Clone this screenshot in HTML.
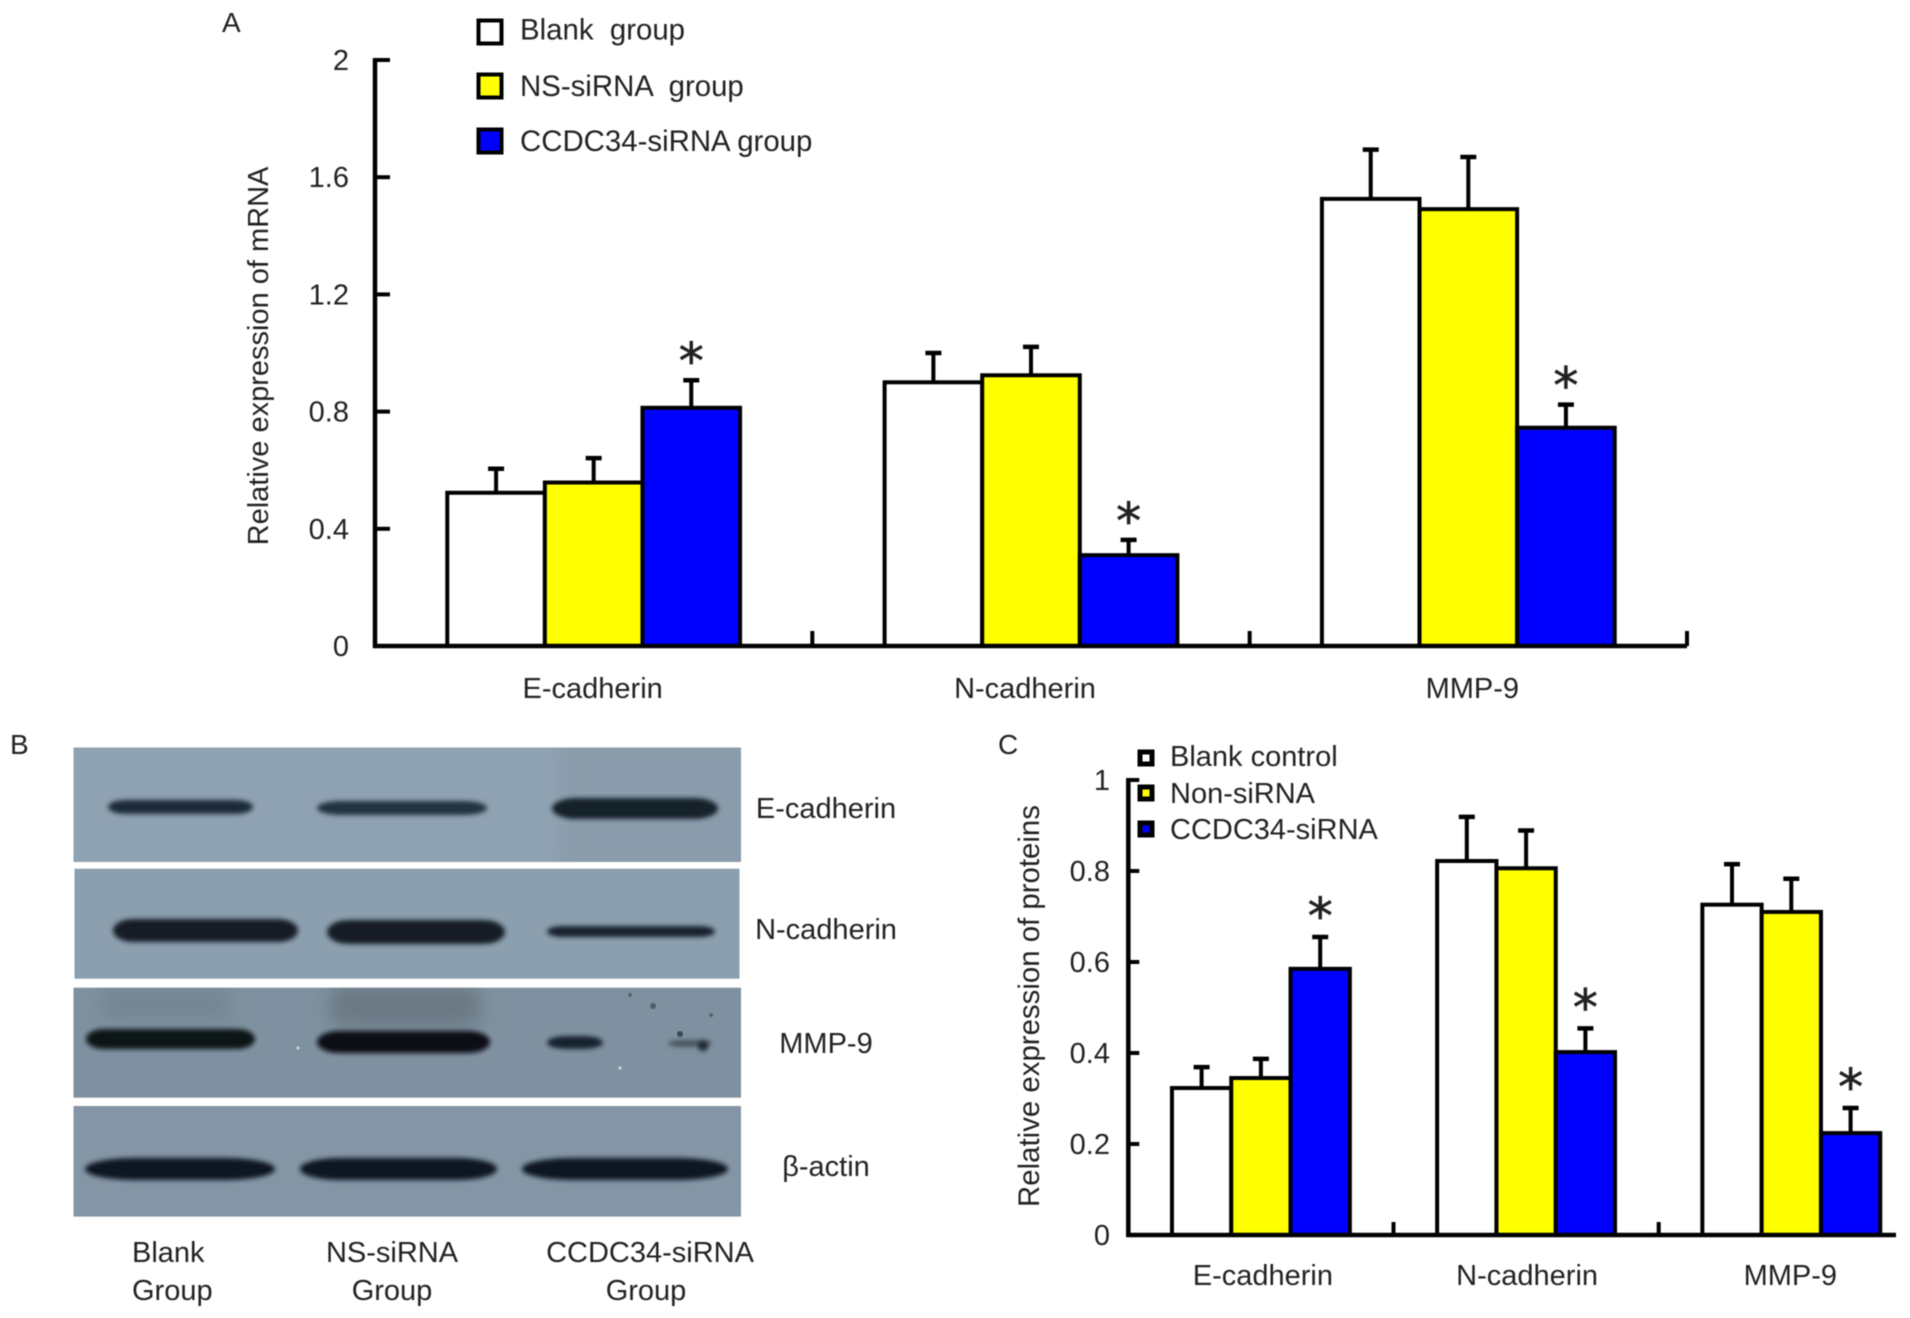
<!DOCTYPE html>
<html lang="en">
<head>
<meta charset="utf-8">
<title>CCDC34 knockdown: mRNA and protein expression</title>
<style>
html,body{margin:0;padding:0;background:#fff;width:1910px;height:1318px;overflow:hidden}
svg{display:block;font-family:"Liberation Sans",sans-serif;fill:#222;filter:blur(0.45px)}
svg text{white-space:pre}
</style>
</head>
<body>
<svg id="figure" xmlns="http://www.w3.org/2000/svg" width="1910" height="1318" viewBox="0 0 1910 1318">
  <defs>
    <filter id="b1" x="-20%" y="-100%" width="140%" height="300%"><feGaussianBlur stdDeviation="2.4"/></filter>
    <filter id="b2" x="-30%" y="-60%" width="160%" height="220%"><feGaussianBlur stdDeviation="9"/></filter>
    <clipPath id="clip-e"><rect x="73.5" y="747.5" width="667.5" height="114.5"/></clipPath>
    <clipPath id="clip-m"><rect x="73.5" y="987.7" width="667.5" height="110"/></clipPath>
  </defs>
  <text x="222" y="32" font-size="28">A</text>
  <text x="10" y="754" font-size="28">B</text>
  <text x="998" y="754" font-size="28">C</text>

  <g>
    <g>
      <rect x="73.5" y="747.5" width="667.5" height="114.5" fill="#8fa2b2"/>
      <g clip-path="url(#clip-e)"><rect x="560" y="735" width="200" height="140" fill="#8a9cab" filter="url(#b2)"/></g>
      <rect x="108" y="800" width="145" height="14" rx="18" ry="7" fill="#1f2c39" filter="url(#b1)"/>
      <rect x="317" y="801" width="170" height="14" rx="24" ry="7" fill="#24323f" filter="url(#b1)"/>
      <rect x="552" y="798" width="166" height="21" rx="24" ry="10.5" fill="#15202a" filter="url(#b1)"/>
    </g>
    <g>
      <rect x="74.5" y="868.7" width="665" height="110" fill="#8c9fae"/>
      <rect x="113" y="919" width="185" height="23" rx="20" ry="11.5" fill="#141e28" filter="url(#b1)"/>
      <rect x="327" y="920" width="178" height="24" rx="22" ry="12" fill="#141e28" filter="url(#b1)"/>
      <rect x="547" y="926" width="168" height="11" rx="16" ry="5.5" fill="#18242e" filter="url(#b1)"/>
    </g>
    <g>
      <rect x="73.5" y="987.7" width="667.5" height="110" fill="#7f91a0"/>
      <g clip-path="url(#clip-m)">
        <rect x="100" y="985" width="130" height="36" rx="10" fill="#748595" filter="url(#b2)"/>
        <rect x="330" y="985" width="150" height="42" rx="10" fill="#6a7984" filter="url(#b2)"/>
      </g>
      <rect x="86" y="1029" width="169" height="20" rx="18" ry="10" fill="#0c1218" filter="url(#b1)"/>
      <rect x="317" y="1031" width="173" height="22" rx="22" ry="11" fill="#0a0f15" filter="url(#b1)"/>
      <rect x="547" y="1036" width="56" height="13" rx="20" ry="6.5" fill="#18232d" filter="url(#b1)"/>
      <rect x="668" y="1040" width="44" height="7" rx="14" ry="3.5" fill="#46555f" filter="url(#b1)"/>
      <circle cx="703" cy="1046" r="5" fill="#1a2530" filter="url(#b1)"/>
      <circle cx="680" cy="1034" r="3" fill="#3a4853"/>
      <circle cx="653" cy="1006" r="3" fill="#4d5c67"/>
      <circle cx="630" cy="995" r="2" fill="#55646f"/>
      <circle cx="711" cy="1015" r="2" fill="#55646f"/>
      <circle cx="620" cy="1068" r="1.6" fill="#c8d2d9"/>
      <circle cx="298" cy="1048" r="1.6" fill="#c8d2d9"/>
    </g>
    <g>
      <rect x="73.5" y="1106" width="667.5" height="110.6" fill="#8495a5"/>
      <rect x="85" y="1158" width="190" height="22" rx="50" ry="11" fill="#101922" filter="url(#b1)"/>
      <rect x="300" y="1158" width="197" height="22" rx="40" ry="11" fill="#101922" filter="url(#b1)"/>
      <rect x="522" y="1158" width="206" height="22" rx="50" ry="11" fill="#101922" filter="url(#b1)"/>
    </g>
    <g font-size="29" text-anchor="middle">
      <text x="826" y="818">E-cadherin</text>
      <text x="826" y="939">N-cadherin</text>
      <text x="826" y="1053">MMP-9</text>
      <text x="826" y="1176" font-family="'Liberation Sans','DejaVu Sans',sans-serif">β-actin</text>
      <text x="132" y="1262" text-anchor="start">Blank</text>
      <text x="132" y="1300" text-anchor="start">Group</text>
      <text x="392" y="1262">NS-siRNA</text>
      <text x="392" y="1300">Group</text>
      <text x="650" y="1262">CCDC34-siRNA</text>
      <text x="646" y="1300">Group</text>
    </g>
  </g>
</svg>
<script>
// Panel A data: relative mRNA expression
const categoriesA = ['E-cadherin', 'N-cadherin', 'MMP-9'];
const blankA = [0.523, 0.90, 1.526];
const nsA = [0.558, 0.924, 1.491];
const ccdcA = [0.813, 0.31, 0.745];
const blankErrA = [0.605, 1.0, 1.694];
const nsErrA = [0.641, 1.021, 1.669];
const ccdcErrA = [0.907, 0.362, 0.824];
const tickValuesA = [0, 0.4, 0.8, 1.2, 1.6, 2];
const tickLabelsA = ['0', '0.4', '0.8', '1.2', '1.6', '2'];
const legendA = ['Blank  group', 'NS-siRNA  group', 'CCDC34-siRNA group'];

// Panel C data: relative protein expression
const categoriesC = ['E-cadherin', 'N-cadherin', 'MMP-9'];
const blankC = [0.323, 0.822, 0.726];
const nsC = [0.345, 0.806, 0.710];
const ccdcC = [0.585, 0.402, 0.224];
const blankErrC = [0.369, 0.919, 0.815];
const nsErrC = [0.387, 0.889, 0.783];
const ccdcErrC = [0.655, 0.454, 0.279];
const tickValuesC = [0, 0.2, 0.4, 0.6, 0.8, 1];
const tickLabelsC = ['0', '0.2', '0.4', '0.6', '0.8', '1'];
const legendC = ['Blank control', 'Non-siRNA', 'CCDC34-siRNA'];

const seriesFills = ['#ffffff', '#ffff00', '#0000ff'];
const seriesKeys = ['blank', 'ns-sirna', 'ccdc34-sirna'];
const NS = 'http://www.w3.org/2000/svg';
const figure = document.getElementById('figure');

function make(tag, attrs, parent) {
  const node = document.createElementNS(NS, tag);
  for (const k in attrs) node.setAttribute(k, attrs[k]);
  parent.appendChild(node);
  return node;
}

function drawChart(c) {
  const root = make('g', {}, figure);
  
  

  const yScale = v => c.y0 - v * (c.y0 - c.yTop) / c.maxValue;
  const xBand = i => c.axisX + c.band * i;
  const xBar = (i, s) => xBand(i) + c.band / 2 + (s - 1.5) * c.barW;

  // bars and error bars
  c.series.forEach((vals, s) => {
    vals.forEach((v, i) => {
      const cx = xBar(i, s) + c.barW / 2;
      const errLine = make('line', { x1: cx, x2: cx, y1: yScale(v), y2: yScale(c.errors[s][i]), stroke: '#000', 'stroke-width': 4 }, root);
      
      
      const cap = make('line', { x1: cx - 8, x2: cx + 8, y1: yScale(c.errors[s][i]), y2: yScale(c.errors[s][i]), stroke: '#000', 'stroke-width': 4.5 }, root);
      
      
    });
  });
  c.series.forEach((vals, s) => {
    vals.forEach((v, i) => {
      const bar = make('rect', { x: xBar(i, s), y: yScale(v), width: c.barW, height: c.y0 - yScale(v), fill: seriesFills[s], stroke: '#000', 'stroke-width': 4 }, root);
      
      
    });
  });

  // significance stars above the CCDC34-siRNA error bars
  c.errors[2].forEach((e, i) => {
    const star = make('text', { x: xBar(i, 2) + c.barW / 2, y: yScale(e) - 26.5 + c.starDy, 'text-anchor': 'middle', 'font-size': 50, 'font-family': '"DejaVu Sans",sans-serif', fill: '#222', stroke: '#222', 'stroke-width': 0.7 }, root);
    
    
    star.textContent = '*';
  });

  // axes
  const yAxis = make('line', { x1: c.axisX, x2: c.axisX, y1: c.yTop - 2, y2: c.y0 + 2, stroke: '#000', 'stroke-width': 4.5 }, root);
  
  
  const xAxis = make('line', { x1: c.axisX - 2, x2: c.axisEnd, y1: c.y0, y2: c.y0, stroke: '#000', 'stroke-width': 4.5 }, root);
  
  

  c.tickValues.forEach((t, i) => {
    const y = yScale(t);
    if (t > 0) {
      const tick = make('line', { x1: c.axisX, x2: c.axisX + c.tickLen, y1: y, y2: y, stroke: '#000', 'stroke-width': 4 }, root);
      
      
    }
    const label = make('text', { x: c.labelRight, y: y + 10, 'text-anchor': 'end', 'font-size': 29 }, root);
    
    
    label.textContent = c.tickLabels[i];
  });

  c.categories.forEach((name, i) => {
    const tx = xBand(i + 1);
    if (tx <= c.axisEnd + 1) {
      const tick = make('line', { x1: tx, x2: tx, y1: c.y0, y2: c.y0 - c.xTickLen, stroke: '#000', 'stroke-width': 4 }, root);
      
      
    }
    const label = make('text', { x: xBand(i) + c.band / 2 + c.labelNudge[i], y: c.xLabelY, 'text-anchor': 'middle', 'font-size': 29 }, root);
    
    
    label.textContent = name;
  });

  const title = make('text', { transform: 'translate(' + c.titleX + ' ' + c.titleY + ') rotate(-90)', 'text-anchor': 'middle', 'font-size': c.titleSize }, root);
  
  
  title.textContent = c.title;

  // legend
  c.legend.forEach((name, s) => {
    const entry = make('g', {}, root);
    
    
    const box = make('rect', { x: c.legendX, y: c.legendY[s] - c.swatch / 2, width: c.swatch, height: c.swatch, fill: seriesFills[s], stroke: '#000', 'stroke-width': c.swatchStroke }, entry);
    
    
    const text = make('text', { x: c.legendTextX, y: c.legendBaseline[s], 'font-size': c.legendSize }, entry);
    
    
    text.textContent = name;
  });
}

drawChart({
  id: 'a', title: 'Relative expression of mRNA', categories: categoriesA,
  series: [blankA, nsA, ccdcA], errors: [blankErrA, nsErrA, ccdcErrA],
  tickValues: tickValuesA, tickLabels: tickLabelsA, legend: legendA, maxValue: 2,
  axisX: 375, axisEnd: 1687, y0: 646, yTop: 60, band: 437.33, barW: 97.6,
  tickLen: 15, xTickLen: 15, labelRight: 349, labelNudge: [-1, -6, 4], xLabelY: 698,
  titleX: 268, titleY: 356, titleSize: 29, starDy: 25,
  legendX: 478.5, legendY: [32, 86, 141], swatch: 23, swatchStroke: 4, legendTextX: 520,
  legendBaseline: [39.5, 96, 151], legendSize: 29.4
});

drawChart({
  id: 'c', title: 'Relative expression of proteins', categories: categoriesC,
  series: [blankC, nsC, ccdcC], errors: [blankErrC, nsErrC, ccdcErrC],
  tickValues: tickValuesC, tickLabels: tickLabelsC, legend: legendC, maxValue: 1,
  axisX: 1128.3, axisEnd: 1896, y0: 1235, yTop: 780, band: 265.2, barW: 59.3,
  tickLen: 11, xTickLen: 13, labelRight: 1110, labelNudge: [2, 1, -1], xLabelY: 1285,
  titleX: 1039, titleY: 1006, titleSize: 29.4, starDy: 23,
  legendX: 1140, legendY: [758, 793, 829], swatch: 12, swatchStroke: 5, legendTextX: 1170,
  legendBaseline: [766, 803, 839], legendSize: 29
});
</script>
</body>
</html>
